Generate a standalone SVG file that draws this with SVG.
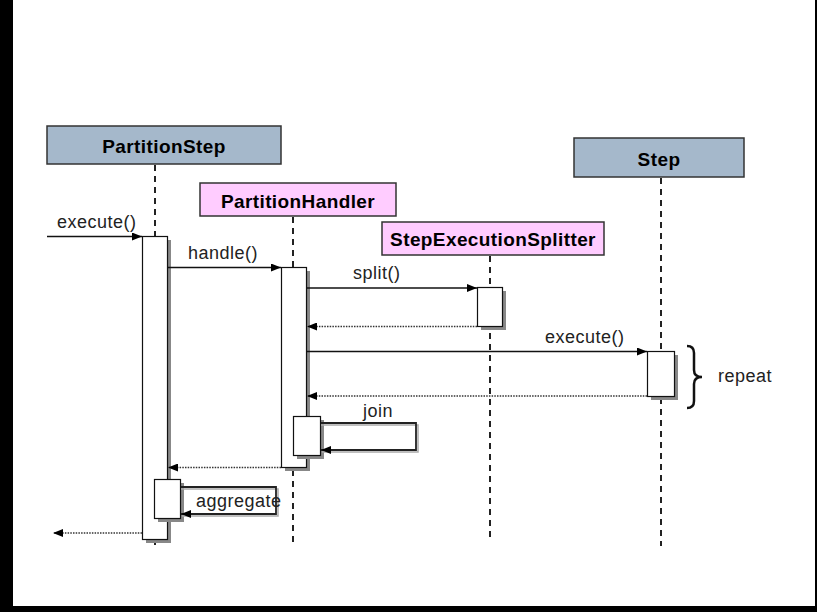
<svg xmlns="http://www.w3.org/2000/svg" width="817" height="612" viewBox="0 0 817 612">
<style>
.hdr{stroke:#333;stroke-width:1.5}
.blue{fill:#a5b8cb}
.pink{fill:#ffccff}
.ht{font-family:"Liberation Sans",Arial,sans-serif;font-weight:bold;font-size:19px;letter-spacing:0.4px;fill:#000;text-anchor:middle}
.lt{font-family:"Liberation Sans",Arial,sans-serif;font-size:18px;letter-spacing:0.5px;fill:#222}
.life{stroke:#222;stroke-width:2;stroke-dasharray:6 5;fill:none}
.act{fill:#fff;stroke:#111;stroke-width:1.2}
.sh{fill:#888}
.msg{stroke:#111;stroke-width:1.3;fill:none}
.self{stroke:#222;stroke-width:1.8;fill:none}
.selfsh{stroke:#aaa;stroke-width:1.5;fill:none}
.ret{stroke:#333;stroke-width:1.3;stroke-dasharray:1.5 1.2;fill:none}
</style>
<defs>
<marker id="ah" markerWidth="10" markerHeight="8" refX="10" refY="4" orient="auto" markerUnits="userSpaceOnUse">
<path d="M0,0 L10,4 L0,8 Z" fill="#000"/>
</marker>
</defs>
<rect x="0" y="0" width="817" height="612" fill="#000"/>
<rect x="13" y="0" width="802" height="606" fill="#fff"/>

<g id="partitionStep">
<rect class="hdr blue" x="47" y="126" width="234" height="38"/>
<text class="ht" x="164" y="153">PartitionStep</text>
<line class="life" x1="155" y1="165" x2="155" y2="545"/>
<rect class="sh" x="146" y="240" width="25" height="303"/>
<rect class="act" x="142.5" y="236.5" width="25" height="303"/>
<rect class="sh" x="158" y="483" width="26" height="39"/>
<rect class="act" x="154.5" y="479.5" width="26" height="39"/>
</g>

<g id="partitionHandler">
<rect class="hdr pink" x="200" y="183" width="196" height="33"/>
<text class="ht" x="298" y="208">PartitionHandler</text>
<line class="life" x1="293" y1="217" x2="293" y2="545"/>
<rect class="sh" x="285" y="271" width="25" height="200"/>
<rect class="act" x="281.5" y="267.5" width="25" height="200"/>
<rect class="sh" x="297" y="420" width="27" height="39"/>
<rect class="act" x="293.5" y="416.5" width="27" height="39"/>
</g>

<g id="stepExecutionSplitter">
<rect class="hdr pink" x="382" y="222" width="222" height="33"/>
<text class="ht" x="493" y="246">StepExecutionSplitter</text>
<line class="life" x1="490" y1="256" x2="490" y2="542"/>
<rect class="sh" x="481" y="291" width="25" height="39"/>
<rect class="act" x="477.5" y="287.5" width="25" height="39"/>
</g>

<g id="step">
<rect class="hdr blue" x="574" y="138" width="170" height="39"/>
<text class="ht" x="659" y="166">Step</text>
<line class="life" x1="661" y1="178" x2="661" y2="546"/>
<rect class="sh" x="651" y="355" width="27" height="45"/>
<rect class="act" x="647.5" y="351.5" width="27" height="45"/>
</g>

<g id="connectors">
<line class="msg" x1="47" y1="236.5" x2="142" y2="236.5" marker-end="url(#ah)"/>
<text class="lt" x="57" y="228">execute()</text>

<line class="msg" x1="168" y1="267.5" x2="281" y2="267.5" marker-end="url(#ah)"/>
<text class="lt" x="188" y="259">handle()</text>

<line class="msg" x1="307" y1="288" x2="477" y2="288" marker-end="url(#ah)"/>
<text class="lt" x="353" y="279">split()</text>
<line class="ret" x1="477" y1="326.5" x2="307" y2="326.5" marker-end="url(#ah)"/>

<line class="msg" x1="307" y1="351.5" x2="647" y2="351.5" marker-end="url(#ah)"/>
<text class="lt" x="545" y="343">execute()</text>
<line class="ret" x1="647" y1="396" x2="307" y2="396" marker-end="url(#ah)"/>

<polyline class="selfsh" points="321,425 418,425 418,452 322,452"/>
<polyline class="self" points="321,423 416,423 416,450 321,450" marker-end="url(#ah)"/>
<text class="lt" x="363" y="417">join</text>

<line class="ret" x1="281" y1="467.5" x2="168" y2="467.5" marker-end="url(#ah)"/>

<polyline class="selfsh" points="181,489 278,489 278,516 182,516"/>
<polyline class="self" points="181,487 276,487 276,514 181,514" marker-end="url(#ah)"/>
<text class="lt" x="196" y="507">aggregate</text>

<line class="ret" x1="142" y1="533" x2="53" y2="533" marker-end="url(#ah)"/>

<path d="M687,346 Q694,346 694,353 L694,370 Q694,377 702,377 Q694,377 694,384 L694,401 Q694,408 687,408" fill="none" stroke="#111" stroke-width="2.5"/>
<text class="lt" x="718" y="382">repeat</text>
</g>
</svg>
